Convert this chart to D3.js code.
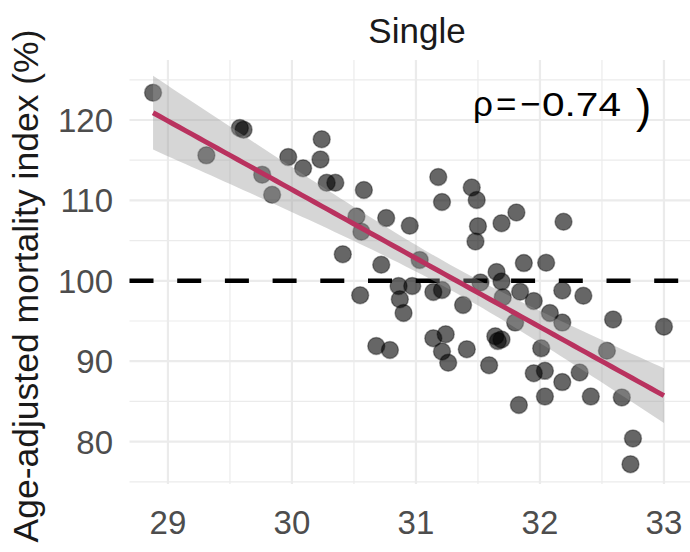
<!DOCTYPE html>
<meta charset="utf-8">

<style type="text/css">
  body {
      margin: 0;
      background: #fff;
  }
  svg text {
      font-family: "Liberation Sans", Arial, sans-serif;
  }
  .grid line {
      stroke: #ebebeb;
  }
  .tick-label {
      fill: #4d4d4d;
      font-size: 33px;
  }
</style>

<body></body>

<script src="https://cdn.jsdelivr.net/npm/d3@7"></script>

<script>

// median age (x) and age-adjusted mortality index (y)
var ageX = [28.88, 29.31, 29.58, 29.61, 29.76, 29.84, 29.97, 30.09, 30.24, 30.23,
            30.28, 30.35, 30.58, 30.52, 30.56, 30.76, 30.41, 30.72, 31.03, 31.48,
            30.86, 30.97, 30.87, 30.90, 31.14, 31.21, 31.38, 31.52, 31.65, 31.69,
            31.70, 31.84, 31.87, 32.05, 31.95, 32.18, 32.08, 32.18, 31.80, 30.68,
            30.79, 31.14, 31.24, 31.21, 31.26, 31.41, 31.64, 31.69, 31.66, 31.59,
            32.01, 31.95, 32.04, 32.35, 32.59, 33.00, 32.32, 32.54, 32.18, 31.83,
            32.04, 32.41, 32.66, 32.75, 32.73, 31.45, 31.49, 31.50, 31.69, 31.81,
            32.19, 31.18, 31.21, 30.95, 30.55];

var mortY = [123.4, 115.6, 119.0, 118.8, 113.2, 110.7, 115.4, 114.0, 117.6, 115.1,
             112.2, 112.2, 111.3, 108.0, 106.1, 107.8, 103.3, 102.0, 102.6, 104.9,
             99.35, 99.35, 97.7, 96.0, 98.6, 98.85, 97.0, 99.8, 101.1, 99.9,
             97.95, 98.65, 102.2, 102.25, 97.5, 98.8, 96.0, 94.8, 94.8, 91.9,
             91.4, 92.85, 93.35, 91.2, 89.8, 91.5, 93.1, 92.7, 92.5, 89.5,
             91.6, 88.5, 88.8, 98.15, 95.2, 94.3, 88.6, 91.3, 87.4, 84.55,
             85.6, 85.6, 85.5, 80.4, 77.2, 111.6, 110.05, 106.8, 107.15, 108.5,
             107.35, 112.9, 109.8, 106.85, 98.2];

var xTicks = [29, 30, 31, 32, 33];
var yTicks = [80, 90, 100, 110, 120];
var xMinor = [29.5, 30.5, 31.5, 32.5];
var yMinor = [75, 85, 95, 105, 115, 125];

var panelTitle = "Single";
var yTitle = "Age-adjusted mortality index (%)";
var refLevel = 100;
var rhoText = "0.74";

var W = 690, H = 552;
var panel = {left: 129.5, right: 690, top: 60, bottom: 484};

var svg = d3.select("body").append("svg")
        .attr("width", W)
        .attr("height", H);

var data = ageX.map(function(x, i) { return {x: x, y: mortY[i]}; });

var xscale = d3.scaleLinear()
    .domain([28.69, 33.21])
    .range([panel.left, panel.right]);

var yscale = d3.scaleLinear()
    .domain([74.73, 127.46])
    .range([panel.bottom, panel.top]);

// gridlines
var grid = svg.append("g").attr("class", "grid");

grid.selectAll("line.xminor").data(xMinor).enter().append("line")
    .attr("x1", xscale).attr("x2", xscale)
    .attr("y1", panel.top).attr("y2", panel.bottom)
    .attr("stroke-width", 1.2);
grid.selectAll("line.yminor").data(yMinor).enter().append("line")
    .attr("y1", yscale).attr("y2", yscale)
    .attr("x1", panel.left).attr("x2", panel.right)
    .attr("stroke-width", 1.2);
grid.selectAll("line.xmajor").data(xTicks).enter().append("line")
    .attr("x1", xscale).attr("x2", xscale)
    .attr("y1", panel.top).attr("y2", panel.bottom)
    .attr("stroke-width", 2.2);
grid.selectAll("line.ymajor").data(yTicks).enter().append("line")
    .attr("y1", yscale).attr("y2", yscale)
    .attr("x1", panel.left).attr("x2", panel.right)
    .attr("stroke-width", 2.2);

// points
svg.append("g").selectAll("circle")
    .data(data)
    .enter().append("circle")
    .attr("cx", function(d) { return xscale(d.x); })
    .attr("cy", function(d) { return yscale(d.y); })
    .attr("r", 8.5)
    .attr("fill", "#000")
    .attr("fill-opacity", 0.6)
    .attr("stroke", "#000")
    .attr("stroke-opacity", 0.35)
    .attr("stroke-width", 1.5);

// reference line at 100
svg.append("line")
    .attr("x1", panel.left).attr("x2", panel.right)
    .attr("y1", yscale(refLevel)).attr("y2", yscale(refLevel))
    .attr("stroke", "#000")
    .attr("stroke-width", 4.5)
    .attr("stroke-dasharray", "24,23.7");

// linear fit with 95% band
var n = data.length;
var mx = d3.mean(ageX), my = d3.mean(mortY);
var sxx = d3.sum(ageX, function(x) { return (x - mx) * (x - mx); });
var sxy = d3.sum(data, function(d) { return (d.x - mx) * (d.y - my); });
var slope = sxy / sxx, icpt = my - slope * mx;
var sse = d3.sum(data, function(d) { var r = d.y - (icpt + slope * d.x); return r * r; });
var s = Math.sqrt(sse / (n - 2));
var tq = 1.993;

var xs = d3.range(80).map(function(i) {
    return d3.min(ageX) + i * (d3.max(ageX) - d3.min(ageX)) / 79;
});
var fit = xs.map(function(x) {
    var yh = icpt + slope * x;
    var se = s * Math.sqrt(1 / n + (x - mx) * (x - mx) / sxx);
    return {x: x, y: yh, lo: yh - tq * se, hi: yh + tq * se};
});

svg.append("path")
    .datum(fit)
    .attr("fill", "#999")
    .attr("fill-opacity", 0.4)
    .attr("d", d3.area()
        .x(function(d) { return xscale(d.x); })
        .y0(function(d) { return yscale(d.lo); })
        .y1(function(d) { return yscale(d.hi); }));

svg.append("path")
    .datum(fit)
    .attr("fill", "none")
    .attr("stroke", "#b9325f")
    .attr("stroke-width", 5)
    .attr("d", d3.line()
        .x(function(d) { return xscale(d.x); })
        .y(function(d) { return yscale(d.y); }));

// tick labels
svg.append("g").selectAll("text")
    .data(xTicks).enter().append("text")
    .attr("class", "tick-label")
    .attr("x", xscale)
    .attr("y", 534)
    .attr("text-anchor", "middle")
    .text(function(d) { return d; });

svg.append("g").selectAll("text")
    .data(yTicks).enter().append("text")
    .attr("class", "tick-label")
    .attr("x", 113)
    .attr("y", yscale)
    .attr("dy", "0.36em")
    .attr("text-anchor", "end")
    .text(function(d) { return d; });

// titles
svg.append("text")
    .attr("x", 417)
    .attr("y", 43)
    .attr("text-anchor", "middle")
    .style("font-size", "35px")
    .attr("fill", "#1a1a1a")
    .text(panelTitle);

svg.append("text")
    .attr("transform", "translate(38,286) rotate(-90)")
    .attr("text-anchor", "middle")
    .style("font-size", "35.5px")
    .attr("fill", "#1a1a1a")
    .text(yTitle);

// correlation annotation (plotmath style)
var ann = svg.append("g").attr("fill", "#000");
ann.append("text").attr("x", 473).attr("y", 116)
    .style("font-size", "35px").text("ρ");
ann.append("text").attr("x", 496).attr("y", 116)
    .style("font-size", "35px").text("=");
ann.append("text").attr("x", 520).attr("y", 116)
    .style("font-size", "35px").text("−");
ann.append("text").attr("x", 542).attr("y", 116)
    .attr("textLength", 79).attr("lengthAdjust", "spacingAndGlyphs")
    .style("font-size", "34px").text(rhoText);
ann.append("text").attr("x", 636).attr("y", 122)
    .style("font-size", "46px").text(")");

</script>
